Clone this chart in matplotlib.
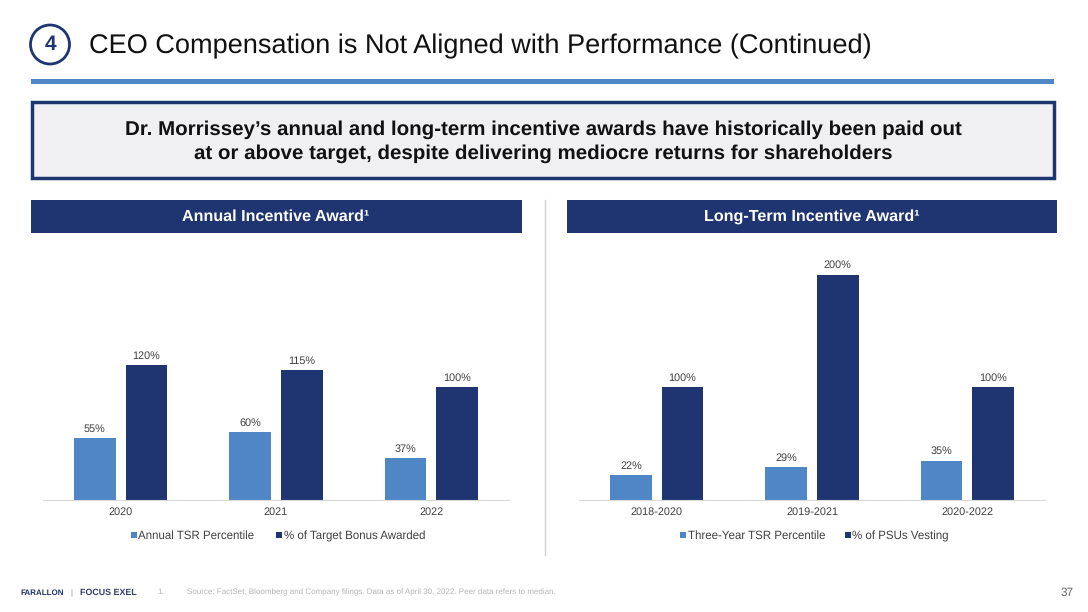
import matplotlib
matplotlib.use("Agg")
import matplotlib.pyplot as plt
from matplotlib.patches import Rectangle, Circle

plt.rcParams["font.family"] = ["Liberation Sans", "DejaVu Sans"]
plt.rcParams["text.hinting"] = "no_hinting"

W, H = 1088, 612
NAVY = "#1f3571"
BLUE = "#4f86c6"

years_left = ["2020", "2021", "2022"]
tsr_left = [55, 60, 37]
bonus_left = [120, 115, 100]
labels_left = ["Annual TSR Percentile", "% of Target Bonus Awarded"]

years_right = ["2018-2020", "2019-2021", "2020-2022"]
tsr_right = [22, 29, 35]
psu_right = [100, 200, 100]
labels_right = ["Three-Year TSR Percentile", "% of PSUs Vesting"]

fig = plt.figure(figsize=(W / 100, H / 100), dpi=100)
bg = fig.add_axes([0, 0, 1, 1])
bg.set_xlim(0, W)
bg.set_ylim(H, 0)
bg.axis("off")


def pixel_axes(x0, y0, x1, y1):
    return fig.add_axes([x0 / W, 1 - y1 / H, (x1 - x0) / W, (y1 - y0) / H])


def legend_key(x, name, color, base):
    # the built-in legend put the two columns on different baselines
    bg.add_patch(Rectangle((x, 532), 6, 6, fc=color, ec="none"))
    bg.text(x + 7.5, base, name, ha="left", va="baseline", fontsize=8.3, color="#404040")


def bar_panel(x0, cats, light, dark, names, key_x):
    ax = pixel_axes(x0, 250, x0 + 466, 500)
    ax.patch.set_alpha(0)
    xs = range(len(cats))
    bw = 0.267
    off = 0.166
    b1 = ax.bar([x - off for x in xs], light, bw, color=BLUE)
    b2 = ax.bar([x + off for x in xs], dark, bw, color=NAVY)
    ax.bar_label(b1, fmt="%d%%", padding=3, fontsize=7.8, color="#404040")
    ax.bar_label(b2, fmt="%d%%", padding=3, fontsize=7.8, color="#404040")
    ax.set_xlim(-0.5, 2.5)
    ax.set_ylim(0, 222)
    ax.set_xticks(list(xs), cats, fontsize=7.8, color="#404040")
    ax.tick_params(axis="x", length=0, pad=5)
    ax.set_yticks([])
    for s in ["top", "left", "right"]:
        ax.spines[s].set_visible(False)
    ax.spines["bottom"].set_color("#d9d9d9")
    legend_key(key_x[0], names[0], BLUE, 539)
    legend_key(key_x[1], names[1], NAVY, 540)
    return ax


# header
bg.add_patch(Circle((50, 44.5), 19.5, fc="white", ec=NAVY, lw=2))
bg.text(50, 45, "4", ha="center", va="center", fontsize=15, weight="bold", color=NAVY)
bg.text(89, 46, "CEO Compensation is Not Aligned with Performance (Continued)",
        ha="left", va="center", fontsize=19.55, color="#111111")
bg.add_patch(Rectangle((31, 79), 1023, 5, fc=BLUE, ec="none"))

# callout box
bg.add_patch(Rectangle((32, 102), 1022, 76, fc="#f0f0f3", ec=NAVY, lw=2.5))
bg.text(543, 129.5, "Dr. Morrissey\u2019s annual and long-term incentive awards have historically been paid out",
        ha="center", va="center", fontsize=14.75, weight="bold", color="#111111")
bg.text(543, 153.5, "at or above target, despite delivering mediocre returns for shareholders",
        ha="center", va="center", fontsize=14.75, weight="bold", color="#111111")

# panel banners
bg.add_patch(Rectangle((31, 200), 491, 33, fc=NAVY, ec="none"))
bg.add_patch(Rectangle((567, 200), 490, 33, fc=NAVY, ec="none"))
bg.text(276, 216.5, "Annual Incentive Award\u00b9", ha="center", va="center",
        fontsize=11.6, weight="bold", color="white")
bg.text(812, 216.5, "Long-Term Incentive Award\u00b9", ha="center", va="center",
        fontsize=11.6, weight="bold", color="white")
bg.plot([544.5, 544.5], [200, 555], color="#d0d0d0", lw=1)

bar_panel(43, years_left, tsr_left, bonus_left, labels_left, (131, 276))
bar_panel(579, years_right, tsr_right, psu_right, labels_right, (680, 845))

# footer
bg.text(20, 593, "FARALLON", ha="left", va="center", fontsize=5.8, weight="bold", color=NAVY)
bg.text(71, 593, "|", ha="center", va="center", fontsize=5.5, color="#888888")
bg.text(80, 593, "FOCUS EXEL", ha="left", va="center", fontsize=6.4, weight="bold", color="#33406b")
bg.text(157, 592, "1.", ha="left", va="center", fontsize=5.8, color="#b5b5b5")
bg.text(187, 592, "Source: FactSet, Bloomberg and Company filings. Data as of April 30, 2022. Peer data refers to median.",
        ha="left", va="center", fontsize=5.73, color="#b5b5b5")
bg.text(1074, 593, "37", ha="right", va="center", fontsize=8.5, color="#666666")

fig.savefig("out.png", dpi=100)
